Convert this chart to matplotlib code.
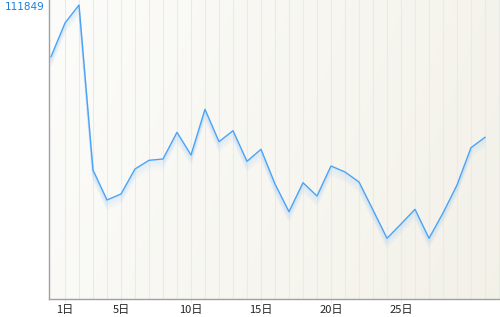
import numpy as np
import matplotlib
matplotlib.use("Agg")
import matplotlib.pyplot as plt
import matplotlib.transforms as mtransforms

plt.rcParams['font.family'] = ['Noto Sans CJK JP', 'DejaVu Sans']

# daily values (index 0 = last day of previous month)
days = list(range(0, 32))
values = [92175, 104990, 111849, 49072, 37660, 39944, 49453, 52762,
          53257, 63413, 54778, 72162, 59838, 64022, 52382, 56947,
          43747, 33210, 44241, 39182, 50594, 48312, 44508, 33857,
          23090, 28531, 34122, 23090, 32715, 43367, 57556, 61511]
tick_pos = [1, 5, 10, 15, 20, 25]
tick_labels = ["1日", "5日", "10日", "15日", "20日", "25日"]
max_label = "111849"

fig = plt.figure(figsize=(5, 3.17), dpi=100)
ax = fig.add_axes([49 / 500, 18 / 317, 451 / 500, 299 / 317])
ax.set_facecolor("none")

# background gradient, white on the left to beige on the right
w, h = 200, 100
gx = np.linspace(0, 1, w)[None, :]
gy = np.linspace(0, 1, h)[:, None]
t = np.clip(0.8 * gx + 0.2 * gy, 0, 1)
c0 = np.array([0.988, 0.988, 0.98])
c1 = np.array([0.952, 0.945, 0.91])
img = c0[None, None, :] * (1 - t[..., None]) + c1[None, None, :] * t[..., None]
ax.imshow(img, extent=[0, 1, 0, 1], transform=ax.transAxes, aspect="auto",
          zorder=0, interpolation="bilinear")

ax.set_xlim(-0.143, 32.07)
ax.set_ylim(0, 111849 * 299 / 294)

# vertical grid
for d in range(1, 33):
    ax.axvline(d, color="#ebebe6", lw=0.8, zorder=1)

# soft shadow under the line
for k in range(1, 11):
    off = mtransforms.ScaledTranslation(0, -k / 100, fig.dpi_scale_trans)
    ax.plot(days, values, color="#9ccbf5", lw=1.2, alpha=0.15 * (1 - k / 11),
            transform=ax.transData + off, zorder=2, solid_joinstyle="miter")

ax.plot(days, values, color="#4aa3f7", lw=1.0, zorder=3)

ax.set_xticks(tick_pos)
ax.set_xticklabels(tick_labels, fontsize=8, color="#222222")
ax.tick_params(axis="x", length=3, color="#eeeeee", pad=1.5)
ax.set_yticks([])

for s in ["top", "right"]:
    ax.spines[s].set_visible(False)
for s in ["left", "bottom"]:
    ax.spines[s].set_color("#a0a0a0")
    ax.spines[s].set_linewidth(1.0)

fig.text(5 / 500, 1 - 7 / 317, max_label, fontsize=7.5, color="#1a7fe0",
         ha="left", va="center", family=["DejaVu Sans"])

fig.savefig("out.png", dpi=100)
